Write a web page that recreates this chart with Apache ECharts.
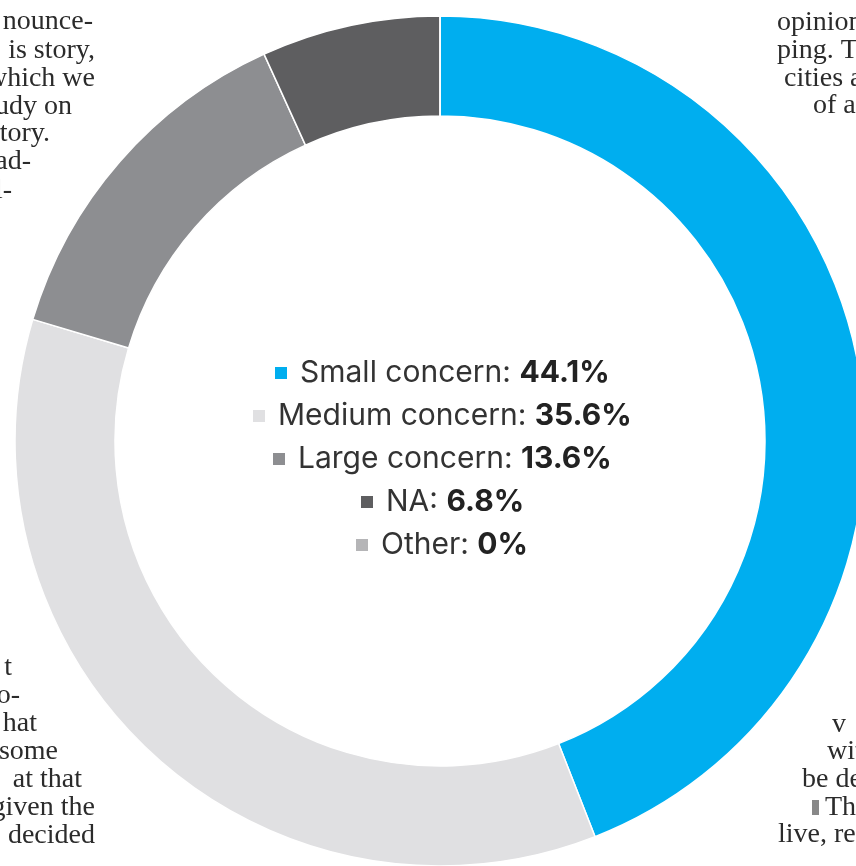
<!DOCTYPE html>
<html>
<head>
<meta charset="utf-8">
<script src="https://cdn.jsdelivr.net/npm/echarts@6/dist/echarts.min.js"></script>
<style>
html,body{margin:0;padding:0;background:#fff;}
#chart{width:856px;height:866px;}
</style>
</head>
<body>
<div id="chart"></div>
<script>
// ---- data ----
const categories = ['Small concern', 'Medium concern', 'Large concern', 'NA', 'Other'];
const values = [44.1, 35.6, 13.6, 6.8, 0];
// ---- styles ----
const sliceColors = ['#00AEEF', '#E0E0E2', '#8D8E91', '#5E5E60', '#B5B5B7'];
const legendRowCenters = [373, 416, 459, 502, 545];
const legendCenterX = 441;

// newspaper text fragments behind the chart
const paperText = [
  ['nounce-', 93, 22, 'right'], ['is story,', 95, 51, 'right'], ['which we', 95, 79, 'right'],
  ['udy on', 72, 107, 'right'], ['tory.', 50, 134, 'right'], ['ad-', 31, 162, 'right'], ['l-', 12, 191, 'right'],
  ['opinions', 777, 23, 'left'], ['ping. The', 777, 51, 'left'], ['cities a', 784, 79, 'left'], ['of a', 813, 106, 'left'],
  ['t', 12, 668, 'right'], ['o-', 20, 696, 'right'], ['hat', 37, 724, 'right'], ['some', 58, 752, 'right'],
  ['at that', 82, 780, 'right'], ['given the', 95, 808, 'right'], ['decided', 95, 836, 'right'],
  ['v', 832, 725, 'left'], ['wit', 827, 752, 'left'], ['be de', 802, 780, 'left'], ['Th', 825, 808, 'left'],
  ['live, re', 778, 835, 'left']
];

const chart = echarts.init(document.getElementById('chart'), null, {renderer: 'canvas'});

function fmtVal(v) { return (Math.round(v * 10) / 10).toString(); }

const ctx = document.createElement('canvas').getContext('2d');
function measure(text, font) { ctx.font = font; return ctx.measureText(text).width; }

const FS = 30, ICON = 14, ICON_GAP = 5, TXT_PAD = 7;
const legends = categories.map((name, i) => {
  const nTxt = `${name}: `;
  const bTxt = `${fmtVal(values[i])}%`;
  const w = ICON + ICON_GAP + TXT_PAD + measure(nTxt, `${FS}px Inter`) + measure(bTxt, `bold ${FS}px Inter`);
  return {
    data: [name],
    left: Math.round(legendCenterX - w / 2),
    top: legendRowCenters[i] - 18 + 3,
    orient: 'horizontal',
    padding: 0,
    icon: 'rect',
    itemWidth: ICON,
    itemHeight: ICON,
    selectedMode: false,
    formatter: n => `{n|${n}: }{b|${fmtVal(values[categories.indexOf(n)])}%}`,
    textStyle: {
      rich: {
        n: {fontFamily: 'Inter', fontSize: FS, color: '#333', padding: [0, 0, 0, TXT_PAD], lineHeight: 36},
        b: {fontFamily: 'Inter', fontSize: FS, fontWeight: 'bold', color: '#222', lineHeight: 36}
      }
    }
  };
});

const graphics = paperText.map(([t, x, y, align]) => ({
  type: 'text',
  x: x, y: y,
  z: -10,
  silent: true,
  style: {
    text: t,
    fill: '#2b2b2b',
    font: '28px "Liberation Serif"',
    textAlign: align,
    textVerticalAlign: 'middle'
  }
}));
graphics.push({
  type: 'rect', z: -10, silent: true,
  shape: {x: 812, y: 800, width: 7, height: 15},
  style: {fill: '#888'}
});

chart.setOption({
  animation: false,
  backgroundColor: '#fff',
  color: sliceColors,
  legend: legends,
  graphic: graphics,
  series: [{
    type: 'pie',
    center: [440, 441],
    radius: [325, 425],
    startAngle: 90,
    clockwise: true,
    avoidLabelOverlap: false,
    label: {show: false},
    labelLine: {show: false},
    emphasis: {disabled: true},
    itemStyle: {borderColor: '#fff', borderWidth: 1.5},
    data: categories.map((c, i) => ({name: c, value: values[i]}))
  }]
});
</script>
</body>
</html>
